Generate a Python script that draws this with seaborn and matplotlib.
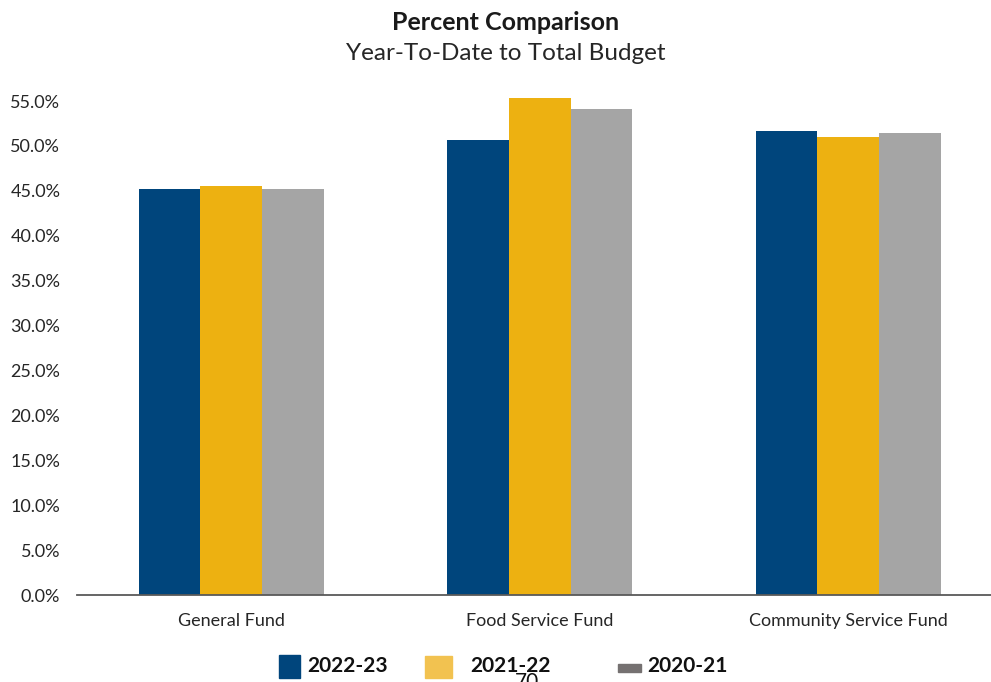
import matplotlib
matplotlib.use("Agg")
import matplotlib.pyplot as plt
from matplotlib.patches import Rectangle
from matplotlib.ticker import FuncFormatter
import seaborn as sns
import pandas as pd

categories = ["General Fund", "Food Service Fund", "Community Service Fund"]
series = ["2022-23", "2021-22", "2020-21"]
values_2022_23 = [0.452, 0.507, 0.517]
values_2021_22 = [0.455, 0.553, 0.510]
values_2020_21 = [0.452, 0.541, 0.514]
bar_colors = ["#00457C", "#EDB111", "#A5A5A5"]
legend_colors = ["#00457C", "#F2C250", "#757171"]
y_ticks = [i * 0.05 for i in range(12)]

rows = []
for s, vals in zip(series, [values_2022_23, values_2021_22, values_2020_21]):
    for c, v in zip(categories, vals):
        rows.append({"Fund": c, "Year": s, "Value": v})
df = pd.DataFrame(rows)

sns.set_style("white")
plt.rcParams["font.family"] = ["Lato", "DejaVu Sans"]

W, H = 991, 682
fig = plt.figure(figsize=(W / 100, H / 100), dpi=100)
left, bottom_px, width_px = 77, 595, 925.5
ymax = 0.56
height_px = ymax * 898
ax = fig.add_axes([left / W, (H - bottom_px) / H, width_px / W, height_px / H])

sns.barplot(data=df, x="Fund", y="Value", hue="Year", order=categories,
            hue_order=series, palette=bar_colors, width=0.6, ax=ax,
            legend=False, errorbar=None, saturation=1, linewidth=0)

ax.set_xlim(-0.5, 2.5)
ax.set_ylim(0, ymax)
ax.set_yticks(y_ticks)
ax.yaxis.set_major_formatter(FuncFormatter(lambda v, p: f"{v*100:.1f}%"))
ax.set_xlabel("")
ax.set_ylabel("")
for sp in ["left", "right", "top"]:
    ax.spines[sp].set_visible(False)
ax.spines["bottom"].set_color("#595959")
ax.spines["bottom"].set_linewidth(1.3)
ax.tick_params(axis="y", length=0, pad=12, labelsize=13, colors="#262626")
ax.tick_params(axis="x", length=0, pad=13, labelsize=13, colors="#262626")
ax.grid(False)

fig.text(506 / W, 1 - 23 / H, "Percent Comparison", ha="center", va="center",
         fontsize=18, fontweight="bold", color="#1a1a1a")
fig.text(506 / W, 1 - 54 / H, "Year-To-Date to Total Budget", ha="center",
         va="center", fontsize=17.5, color="#262626")

# legend
boxes = [(279, 655, 21, 23), (425, 656, 27, 22), (618, 664, 23, 8)]
text_x = [307, 470, 647]
for (bx, by, bw, bh), col, tx, lab in zip(boxes, legend_colors, text_x, series):
    fig.patches.append(Rectangle((bx / W, 1 - (by + bh) / H), bw / W, bh / H,
                                 transform=fig.transFigure, color=col))
    fig.text(tx / W, 1 - 666 / H, lab, ha="left", va="center", fontsize=15,
             fontweight="bold", color="#111111")

fig.text(527 / W, 1 - 682 / H, "70", ha="center", va="center", fontsize=15,
         color="#111111")

fig.savefig("out.png", dpi=100)
